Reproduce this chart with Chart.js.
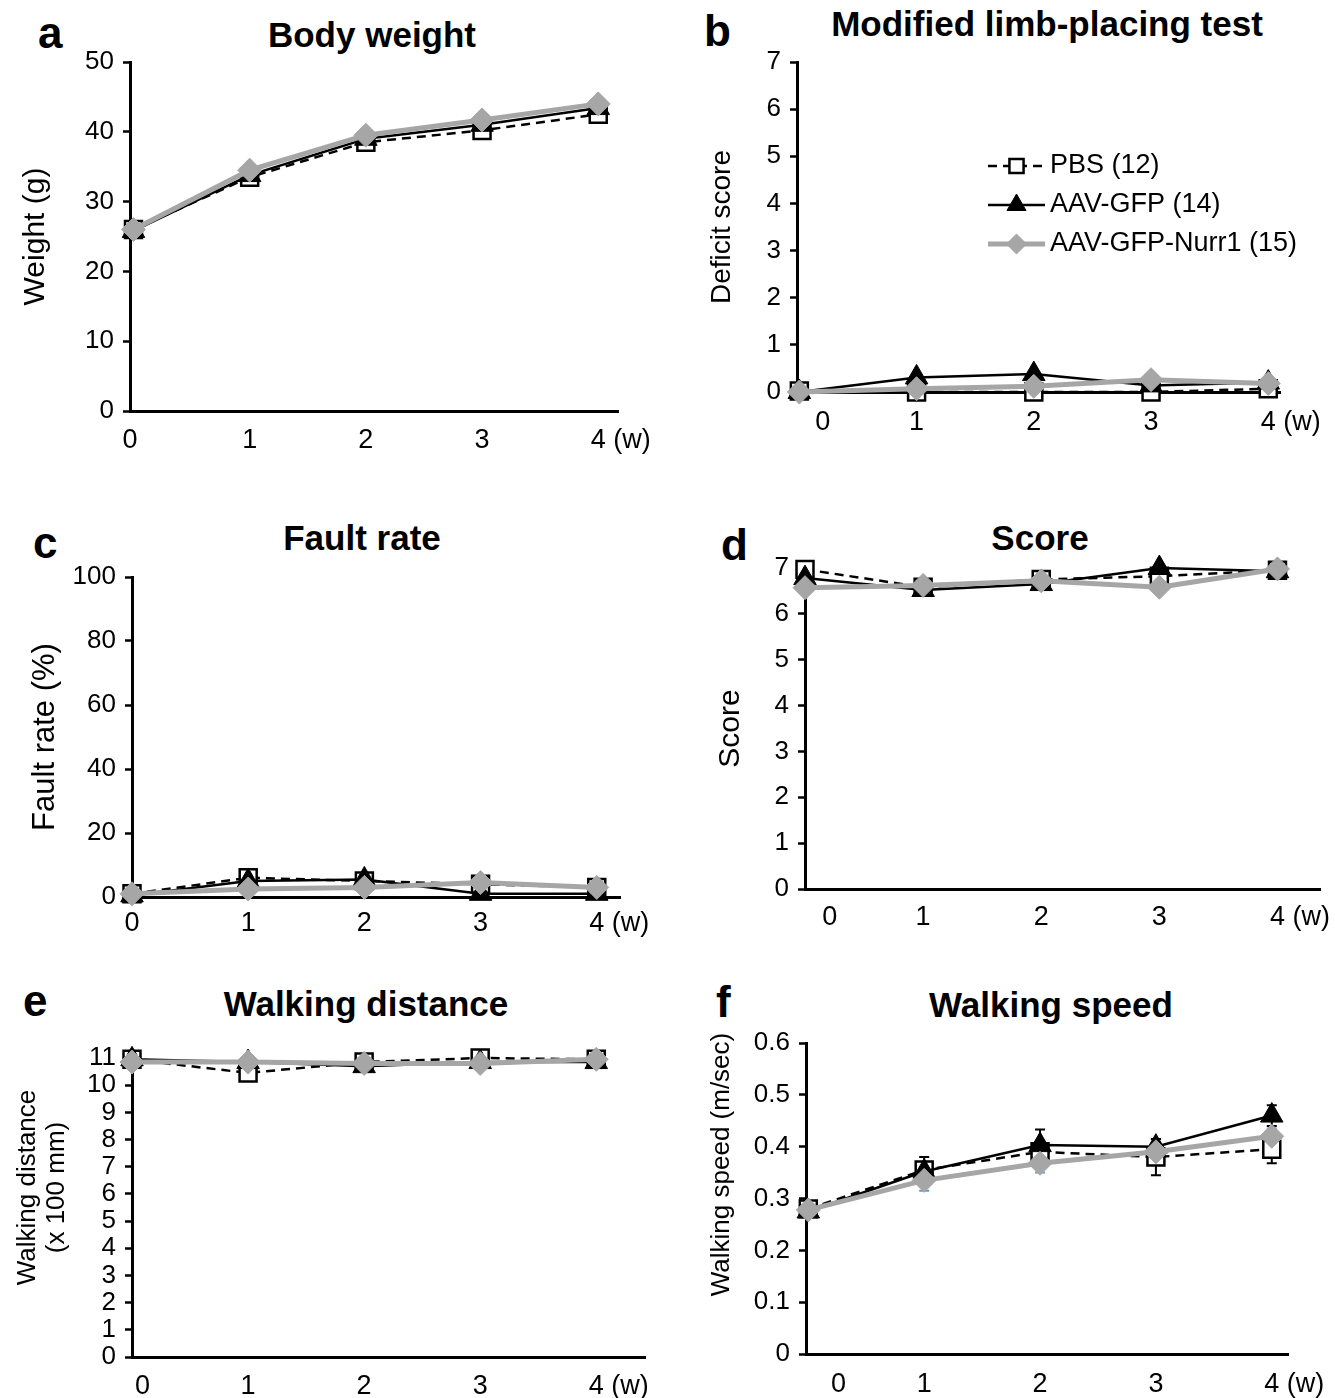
<!DOCTYPE html>
<html><head><meta charset="utf-8">
<script src="https://cdn.jsdelivr.net/npm/chart.js@4.4.1/dist/chart.umd.min.js"></script>
<style>
html,body{margin:0;padding:0;background:#fff;}
#fig{position:relative;width:1335px;height:1398px;overflow:hidden;background:#fff;}
#fig canvas{position:absolute;}
.lab{position:absolute;font-family:'Liberation Sans',Arial,sans-serif;font-weight:bold;line-height:1;white-space:nowrap;color:#000;}
</style></head><body><div id="fig"></div>
<script>
// ---------- data ----------
const weeks = [0, 1, 2, 3, 4];
const xTickLabels = ['0', '1', '2', '3', '4'];
const xUnit = '(w)';
const seriesNames = ['PBS (12)', 'AAV-GFP (14)', 'AAV-GFP-Nurr1 (15)'];

const weightPBS   = [26.0, 33.5, 38.5, 40.2, 42.5];
const weightGFP   = [25.8, 33.8, 39.0, 41.0, 43.4];
const weightNurr1 = [26.0, 34.5, 39.5, 41.7, 44.0];

const limbPBS   = [0.02, 0.0, 0.0, 0.0, 0.07];
const limbGFP   = [0.0, 0.31, 0.38, 0.14, 0.2];
const limbNurr1 = [0.0, 0.07, 0.12, 0.26, 0.18];

const faultPBS   = [1, 6, 5, 4, 3];
const faultGFP   = [0.5, 5, 5.5, 1, 1];
const faultNurr1 = [1, 2.5, 3, 4.5, 3];

const scorePBS   = [6.97, 6.58, 6.75, 6.82, 6.95];
const scoreGFP   = [6.78, 6.52, 6.65, 7.0, 6.93];
const scoreNurr1 = [6.57, 6.62, 6.72, 6.58, 6.98];

const distPBS   = [10.95, 10.45, 10.85, 11.0, 10.95];
const distGFP   = [10.95, 10.85, 10.7, 10.85, 10.85];
const distNurr1 = [10.85, 10.85, 10.8, 10.8, 10.95];

const speedPBS   = [0.28, 0.355, 0.39, 0.38, 0.395];
const speedGFP   = [0.275, 0.352, 0.403, 0.4, 0.46];
const speedNurr1 = [0.278, 0.335, 0.368, 0.39, 0.42];
const speedErrPBS   = [0.01, 0.025, 0.01, 0.035, 0.027];
const speedErrGFP   = [0.01, 0.015, 0.03, 0.015, 0.02];
const speedErrNurr1 = [0.01, 0.02, 0.018, 0.015, 0.015];

// ---------- styles ----------
const F = "'Liberation Sans', Arial, sans-serif";
const GRAY = '#a6a6a6';
const styles = [
  {label: seriesNames[0], borderColor:'#000', borderWidth:2.5, borderDash:[9,6], pointStyle:'rect', pointRadius:12, pointBackgroundColor:'#fff', pointBorderColor:'#000', pointBorderWidth:2.5, order:2, errColor:'#000', legendRadius:10},
  {label: seriesNames[1], borderColor:'#000', borderWidth:2.5, borderDash:[], pointStyle:'triangle', pointRadius:13, pointBackgroundColor:'#000', pointBorderColor:'#000', pointBorderWidth:1, order:1, errColor:'#000', legendRadius:11},
  {label: seriesNames[2], borderColor:GRAY, borderWidth:5, borderDash:[], pointStyle:'rectRot', pointRadius:12, pointBackgroundColor:GRAY, pointBorderColor:GRAY, pointBorderWidth:1, order:0, errColor:'#5b9bd5', legendRadius:10}
];

// ---------- panel layout ----------
const panels = [
  {letter:'a', letterPos:[38,48], title:'Body weight', titlePos:[372,47],
   area:[130,62,618,411], x:[-0.03,4.17], xTicks:[-0.03,1,2,3,4], y:[0,50,10],
   yTitle:'Weight (g)', yTitleSize:30, yTitleX:35, yShift:0, xPad:13,
   series:[weightPBS, weightGFP, weightNurr1]},
  {letter:'b', letterPos:[704,46], title:'Modified limb-placing test', titlePos:[1047,36],
   area:[797,62,1280,392], x:[-0.02,4.1], xTicks:[0.2,1,2,3,4], y:[0,7,1],
   yTitle:'Deficit score', yTitleSize:28, yTitleX:722, yShift:0, xPad:14, legend:{x:988, y:166, dy:39},
   series:[limbPBS, limbGFP, limbNurr1]},
  {letter:'c', letterPos:[33,558], title:'Fault rate', titlePos:[362,550],
   area:[132,577,620,897], x:[0,4.2], xTicks:[0,1,2,3,4], y:[0,100,20],
   yTitle:'Fault rate (%)', yTitleSize:31, yTitleX:45, yShift:0, xPad:10,
   series:[faultPBS, faultGFP, faultNurr1]},
  {letter:'d', letterPos:[721,560], title:'Score', titlePos:[1040,550],
   area:[805,568,1320,889], x:[0,4.36], xTicks:[0.21,1,2,3,4], y:[0,7,1],
   yTitle:'Score', yTitleSize:30, yTitleX:730, yShift:0, xPad:12,
   series:[scorePBS, scoreGFP, scoreNurr1]},
  {letter:'e', letterPos:[23,1016], title:'Walking distance', titlePos:[366,1016],
   area:[132,1058,645,1357], x:[0,4.42], xTicks:[0.09,1,2,3,4], y:[0,11,1],
   yTitle:['Walking distance','(x 100 mm)'], yTitleSize:26, yTitleX:28, yShift:-20, xPad:13,
   series:[distPBS, distGFP, distNurr1]},
  {letter:'f', letterPos:[716,1017], title:'Walking speed', titlePos:[1051,1017],
   area:[806,1043,1288,1354], x:[-0.02,4.14], xTicks:[0.26,1,2,3,4], y:[0,0.6,0.1],
   yTitle:'Walking speed (m/sec)', yTitleSize:26, yTitleX:722, yShift:-34, xPad:14,
   series:[speedPBS, speedGFP, speedNurr1], errors:[speedErrPBS, speedErrGFP, speedErrNurr1]}
];

const fig = document.getElementById('fig');
const X_FONT = 27, Y_FONT = 26, LEG_FONT = 27;

function addText(txt, left, base, size, center){
  const d = document.createElement('div');
  d.className = 'lab'; d.textContent = txt;
  d.style.fontSize = size + 'px';
  d.style.left = left + 'px';
  d.style.top = (base - 0.8465*size) + 'px';
  if (center) d.style.transform = 'translateX(-50%)';
  fig.appendChild(d);
}

panels.forEach(p => {
  addText(p.letter, p.letterPos[0], p.letterPos[1], 44, false);
  addText(p.title, p.titlePos[0], p.titlePos[1], 35, true);

  const [L,T,R,B] = p.area;
  const LH = 1.1;
  const cl = Math.round(p.yTitleX - p.yTitleSize*LH/2);
  const pt = 30, pr = 70, hx = 62;
  const W = (R - cl) + pr, H = pt + (B - T) + hx;
  const ct = T - pt;
  const yW = L - cl;
  const cv = document.createElement('canvas');
  cv.width = W; cv.height = H;
  cv.style.left = cl + 'px'; cv.style.top = ct + 'px';
  cv.style.width = W + 'px'; cv.style.height = H + 'px';
  fig.appendChild(cv);

  const unitPlugin = {
    id: 'unit',
    afterDraw(chart){
      const sc = chart.scales.x, ctx = chart.ctx;
      const px = sc.getPixelForValue(weeks[weeks.length-1]);
      ctx.save();
      ctx.font = X_FONT + 'px ' + F;
      ctx.fillStyle = '#000';
      ctx.textBaseline = 'middle';
      ctx.textAlign = 'left';
      const w4 = ctx.measureText(xTickLabels[xTickLabels.length-1]).width;
      const sp = ctx.measureText(' ').width;
      ctx.fillText(xUnit, px + w4/2 + sp, sc.top + p.xPad + X_FONT*1.2/2);
      ctx.restore();
    }
  };
  const errPlugin = {
    id: 'errbars',
    beforeDatasetsDraw(chart){
      if (!p.errors) return;
      const xs = chart.scales.x, ys = chart.scales.y, ctx = chart.ctx;
      p.errors.forEach((arr, k) => {
        ctx.save();
        ctx.strokeStyle = styles[k].errColor;
        ctx.lineWidth = 2;
        p.series[k].forEach((v, i) => {
          const px = xs.getPixelForValue(weeks[i]);
          const y1 = ys.getPixelForValue(v - arr[i]);
          const y2 = ys.getPixelForValue(v + arr[i]);
          ctx.beginPath();
          ctx.moveTo(px, y1); ctx.lineTo(px, y2);
          ctx.moveTo(px-5, y1); ctx.lineTo(px+5, y1);
          ctx.moveTo(px-5, y2); ctx.lineTo(px+5, y2);
          ctx.stroke();
        });
        ctx.restore();
      });
    }
  };
  const legendPlugin = {
    id: 'lgd',
    afterDraw(chart){
      if (!p.legend) return;
      const ctx = chart.ctx, lg = p.legend;
      styles.forEach((s, k) => {
        const y = lg.y + k*lg.dy - ct;
        const x0 = lg.x - cl, x1 = x0 + 57;
        ctx.save();
        ctx.strokeStyle = s.borderColor; ctx.lineWidth = s.borderWidth;
        ctx.setLineDash(s.borderDash);
        ctx.beginPath(); ctx.moveTo(x0, y); ctx.lineTo(x1, y); ctx.stroke();
        ctx.setLineDash([]);
        ctx.fillStyle = s.pointBackgroundColor; ctx.strokeStyle = s.pointBorderColor;
        ctx.lineWidth = s.pointBorderWidth;
        Chart.helpers.drawPoint(ctx, {pointStyle:s.pointStyle, radius:s.legendRadius, rotation:0, borderWidth:s.pointBorderWidth}, (x0+x1)/2, y);
        ctx.fillStyle = '#000';
        ctx.font = LEG_FONT + 'px ' + F;
        ctx.textBaseline = 'middle'; ctx.textAlign = 'left';
        ctx.fillText(s.label, x1 + 5, y);
        ctx.restore();
      });
    }
  };

  new Chart(cv, {
    type: 'line',
    data: {
      datasets: styles.map((s, k) => ({
        label: s.label,
        data: weeks.map((w, i) => ({x: w, y: p.series[k][i]})),
        borderColor: s.borderColor, borderWidth: s.borderWidth, borderDash: s.borderDash,
        pointStyle: s.pointStyle, pointRadius: s.pointRadius, pointHoverRadius: s.pointRadius,
        pointBackgroundColor: s.pointBackgroundColor, pointBorderColor: s.pointBorderColor,
        pointBorderWidth: s.pointBorderWidth, order: s.order,
        fill: false, tension: 0, clip: false
      }))
    },
    options: {
      responsive: false, animation: false, events: [],
      layout: {padding: {left: 0, top: pt, right: pr, bottom: 0}},
      plugins: {legend: {display: false}, tooltip: {enabled: false}, title: {display: false}},
      scales: {
        x: {
          type: 'linear', min: p.x[0], max: p.x[1],
          afterBuildTicks: sc => { sc.ticks = p.xTicks.map(v => ({value: v})); },
          afterFit: sc => { sc.height = hx; },
          grid: {display: false, drawTicks: false, tickLength: 0},
          border: {display: true, color: '#000', width: 3},
          ticks: {autoSkip: false, maxRotation: 0, minRotation: 0, padding: p.xPad, color: '#000',
                  font: {family: F, size: X_FONT}, callback: (v, i) => xTickLabels[i]}
        },
        y: {
          type: 'linear', min: p.y[0], max: p.y[1],
          afterFit: sc => {
            sc.width = yW;
            if (!sc._shiftPatched) {
              sc._shiftPatched = true;
              const orig = sc.drawTitle;
              sc.drawTitle = function(){
                this.ctx.save();
                this.ctx.translate(0, p.yShift);
                orig.apply(this, arguments);
                this.ctx.restore();
              };
            }
          },
          grid: {display: true, drawOnChartArea: false, drawTicks: true, tickLength: 7, tickWidth: 2.5, tickColor: '#000', color: '#000'},
          border: {display: true, color: '#000', width: 3},
          ticks: {autoSkip: false, stepSize: p.y[2], padding: 9, color: '#000', font: {family: F, size: Y_FONT}},
          title: {display: true, text: p.yTitle, color: '#000', font: {family: F, size: p.yTitleSize, lineHeight: LH}, padding: 0}
        }
      }
    },
    plugins: [errPlugin, unitPlugin, legendPlugin]
  });
});
</script>
</body></html>
